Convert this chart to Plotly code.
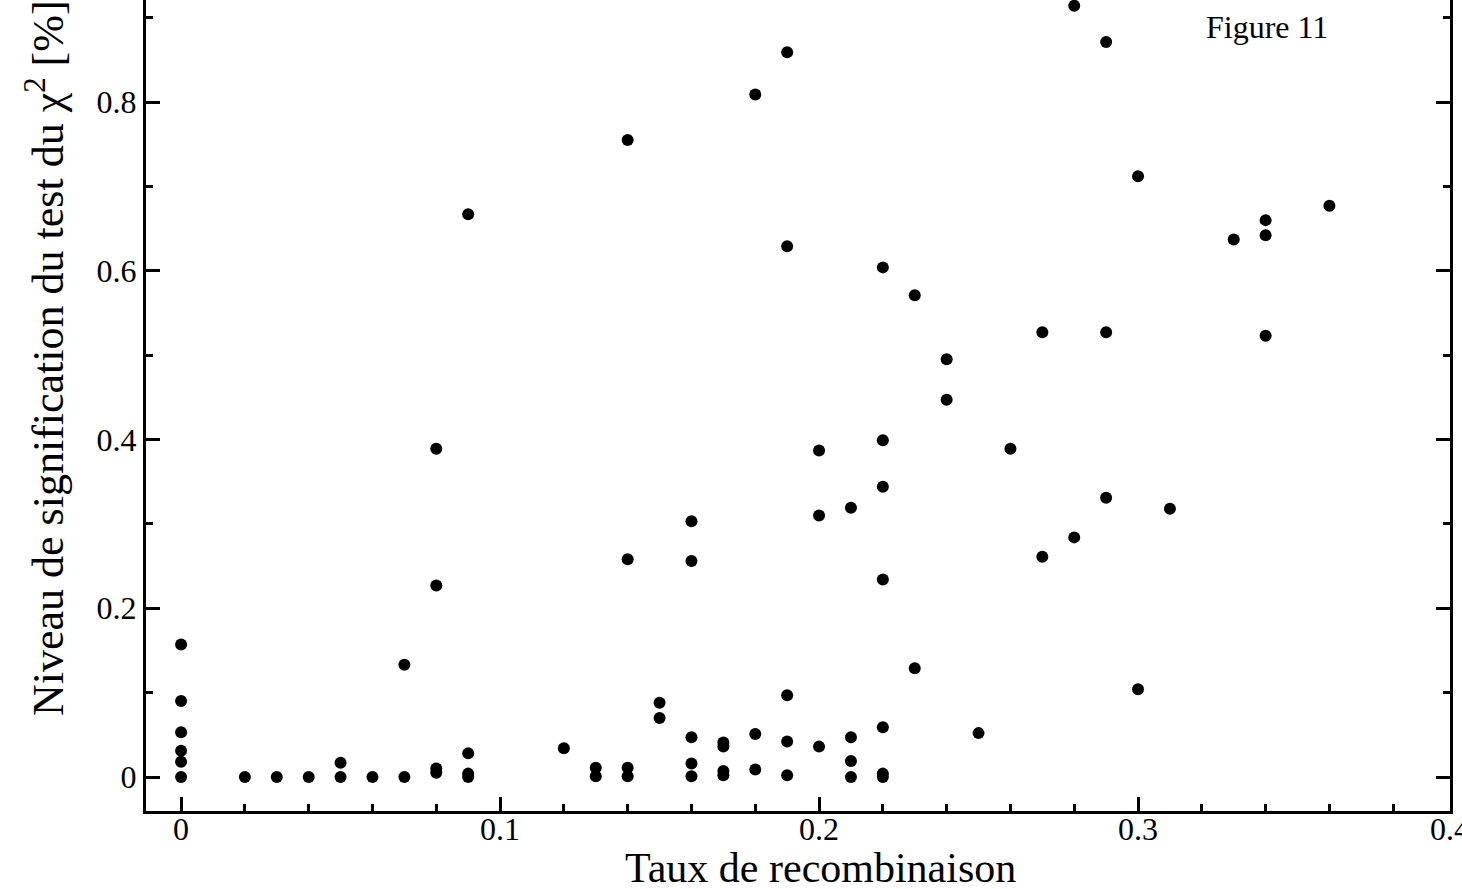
import plotly.graph_objects as go

# Recombination rate (x) and chi-square significance level (y)
rate = [
    0, 0, 0, 0, 0, 0,
    0.02, 0.03, 0.04,
    0.05, 0.05,
    0.06,
    0.07, 0.07,
    0.08, 0.08, 0.08, 0.08,
    0.09, 0.09, 0.09, 0.09,
    0.12,
    0.13, 0.13,
    0.14, 0.14, 0.14, 0.14,
    0.15, 0.15,
    0.16, 0.16, 0.16, 0.16, 0.16,
    0.17, 0.17, 0.17, 0.17,
    0.18, 0.18, 0.18,
    0.19, 0.19, 0.19, 0.19, 0.19,
    0.20, 0.20, 0.20,
    0.21, 0.21, 0.21, 0.21,
    0.22, 0.22, 0.22, 0.22, 0.22, 0.22, 0.22,
    0.23, 0.23,
    0.24, 0.24,
    0.25,
    0.26,
    0.27, 0.27,
    0.28, 0.28,
    0.29, 0.29, 0.29,
    0.30, 0.30,
    0.31,
    0.33,
    0.34, 0.34, 0.34,
    0.36,
]
signif = [
    0.157, 0.090, 0.053, 0.031, 0.018, 0.0,
    0.0, 0.0, 0.0,
    0.017, 0.0,
    0.0,
    0.0, 0.133,
    0.005, 0.010, 0.227, 0.389,
    0.028, 0.004, 0.0, 0.667,
    0.034,
    0.011, 0.001,
    0.011, 0.001, 0.258, 0.755,
    0.088, 0.070,
    0.047, 0.016, 0.001, 0.303, 0.256,
    0.041, 0.036, 0.007, 0.002,
    0.051, 0.009, 0.809,
    0.097, 0.042, 0.002, 0.629, 0.859,
    0.036, 0.310, 0.387,
    0.047, 0.019, 0.0, 0.319,
    0.059, 0.004, 0.0, 0.234, 0.344, 0.399, 0.604,
    0.129, 0.571,
    0.447, 0.495,
    0.052,
    0.389,
    0.261, 0.527,
    0.284, 0.914,
    0.331, 0.527, 0.871,
    0.104, 0.712,
    0.318,
    0.637,
    0.523, 0.642, 0.660,
    0.677,
]

x_ticks = [0, 0.1, 0.2, 0.3, 0.4]
x_labels = ["0", "0.1", "0.2", "0.3", "0.4"]
y_ticks = [0, 0.2, 0.4, 0.6, 0.8]
y_labels = ["0", "0.2", "0.4", "0.6", "0.8"]

FONT = "Liberation Serif, Times New Roman, serif"
PLOT_H = 811
PLOT_W = 1304
X_RANGE = [-0.011, 0.3978]

fig = go.Figure()
fig.add_trace(go.Scatter(
    x=rate, y=signif, mode="markers",
    marker=dict(color="black", size=12, line=dict(width=0)),
    showlegend=False, cliponaxis=False,
))

annotations = []
# x tick labels placed through the x scale, just under the axis line
for tv, tl in zip(x_ticks, x_labels):
    annotations.append(dict(
        text=tl, x=min(tv, X_RANGE[1] - 0.0001), xref="x",
        y=-(829 - PLOT_H) / PLOT_H, yref="paper",
        xanchor="center", yanchor="middle", showarrow=False,
        font=dict(family=FONT, size=32),
    ))
annotations += [
    dict(text="Taux de recombinaison", x=(821 - 146) / PLOT_W, y=-(868 - PLOT_H) / PLOT_H,
         xref="paper", yref="paper", xanchor="center", yanchor="middle",
         showarrow=False, font=dict(family=FONT, size=42)),
    dict(text="Niveau de signification du test du χ<sup>2</sup> [%]",
         x=(45 - 146) / PLOT_W, y=(PLOT_H - 358) / PLOT_H,
         xref="paper", yref="paper", xanchor="center", yanchor="middle",
         textangle=-90, showarrow=False, font=dict(family=FONT, size=44)),
    dict(text="Figure 11", x=(1267 - 146) / PLOT_W, y=(PLOT_H - 27) / PLOT_H,
         xref="paper", yref="paper", xanchor="center", yanchor="middle",
         showarrow=False, font=dict(family=FONT, size=32)),
]

fig.update_layout(
    width=1462, height=889,
    margin=dict(l=146, r=12, t=0, b=78, autoexpand=False),
    paper_bgcolor="white", plot_bgcolor="white",
    font=dict(family=FONT, color="black", size=32),
    xaxis=dict(
        range=X_RANGE,
        tickvals=x_ticks, showticklabels=False,
        ticks="inside", ticklen=14, tickwidth=3, tickcolor="black",
        minor=dict(dtick=0.02, tick0=0, ticks="inside", ticklen=7, tickwidth=3, tickcolor="black"),
        showline=True, linewidth=3, linecolor="black", mirror=False,
        showgrid=False, zeroline=False,
    ),
    yaxis=dict(
        range=[-0.0403, 0.9209],
        tickvals=y_ticks, ticktext=y_labels,
        ticks="inside", ticklen=14, tickwidth=3, tickcolor="black",
        minor=dict(dtick=0.1, tick0=0, ticks="inside", ticklen=7, tickwidth=3, tickcolor="black"),
        showline=True, linewidth=3, linecolor="black", mirror="ticks",
        showgrid=False, zeroline=False,
        tickfont=dict(family=FONT, size=32),
    ),
    annotations=annotations,
)

fig.write_html("out.html", config={"displayModeBar": False},
               post_script="document.body.style.margin='0';")
